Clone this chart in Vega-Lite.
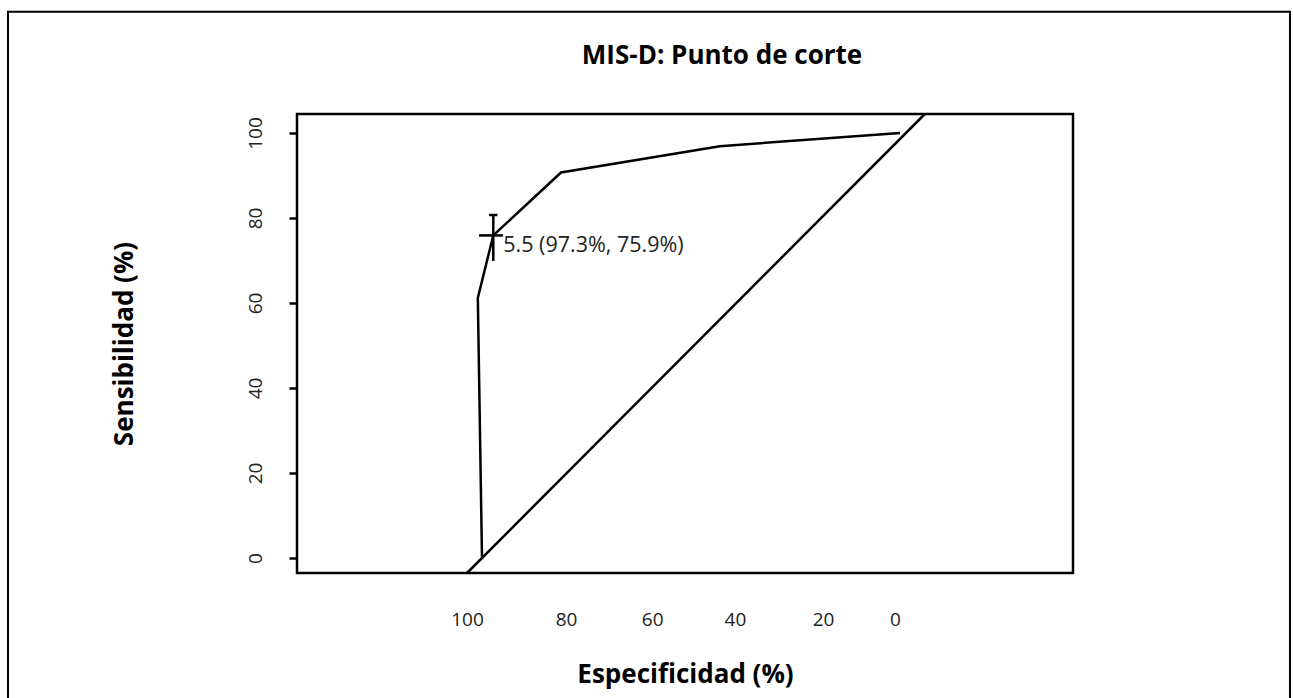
{
  "$schema": "https://vega.github.io/schema/vega-lite/v6.json",
  "autosize": {"type": "none"},
  "padding": {"left": 297, "top": 114, "right": 220, "bottom": 125},
  "width": 776,
  "height": 459,
  "background": "#ffffff",
  "title": {
    "text": "MIS-D: Punto de corte",
    "font": "Open Sans",
    "fontSize": 26,
    "fontWeight": "bold",
    "color": "#000000",
    "anchor": "middle",
    "frame": "group",
    "baseline": "alphabetic",
    "dx": 37,
    "offset": -79
  },
  "config": {
    "view": {"stroke": "#000000", "strokeWidth": 2.5},
    "axis": {
      "labelFont": "Open Sans",
      "labelFontSize": 19,
      "labelColor": "#222222",
      "titleFont": "Open Sans",
      "titleFontSize": 26,
      "titleFontWeight": "bold",
      "titleColor": "#000000",
      "grid": false,
      "domain": false
    }
  },
  "datasets": {
    "curve": [
      {"serie": "ROC", "especificidad": 100.0, "sensibilidad": 0.0},
      {"serie": "ROC", "especificidad": 101.0, "sensibilidad": 61.2},
      {"serie": "ROC", "especificidad": 97.3, "sensibilidad": 75.9},
      {"serie": "ROC", "especificidad": 81.1, "sensibilidad": 90.7},
      {"serie": "ROC", "especificidad": 43.1, "sensibilidad": 96.9},
      {"serie": "ROC", "especificidad": 0.0, "sensibilidad": 100.0},
      {"serie": "Diagonal", "especificidad": 103.58, "sensibilidad": -3.53},
      {"serie": "Diagonal", "especificidad": -5.95, "sensibilidad": 104.47}
    ],
    "bars": [
      {"e1": 97.3, "e2": 97.3, "s1": 69.9, "s2": 80.7},
      {"e1": 98.3, "e2": 96.3, "s1": 80.7, "s2": 80.7},
      {"e1": 100.7, "e2": 95.0, "s1": 75.9, "s2": 75.9}
    ],
    "note": [
      {"especificidad": 97.3, "sensibilidad": 75.9, "texto": "5.5 (97.3%, 75.9%)"}
    ]
  },
  "layer": [
    {
      "data": {"name": "curve"},
      "mark": {"type": "line", "color": "#000000", "strokeWidth": 2.5, "clip": false},
      "encoding": {
        "x": {
          "field": "especificidad",
          "type": "quantitative",
          "scale": {"domain": [-41.39, 144.26], "reverse": true, "nice": false, "zero": false},
          "axis": {
            "title": "Especificidad (%)",
            "values": [103.6, 79.9, 59.3, 39.5, 18.4, 1.2],
            "labelExpr": "format(round(datum.value / 20) * 20, 'd')",
            "ticks": false,
            "labelPadding": 37,
            "labelBaseline": "top",
            "titleBaseline": "alphabetic",
            "titleY": 109
          }
        },
        "y": {
          "field": "sensibilidad",
          "type": "quantitative",
          "scale": {"domain": [-3.53, 104.47], "nice": false, "zero": false},
          "axis": {
            "title": "Sensibilidad (%)",
            "values": [0, 20, 40, 60, 80, 100],
            "tickSize": 8,
            "tickWidth": 2.5,
            "tickColor": "#000000",
            "labelAngle": -90,
            "labelAlign": "center",
            "labelBaseline": "alphabetic",
            "labelPadding": 28,
            "titleAngle": -90,
            "titleAlign": "center",
            "titleBaseline": "alphabetic",
            "titleX": -165,
            "titleY": 229.5
          }
        },
        "detail": {"field": "serie", "type": "nominal"},
        "order": {"field": "serie", "type": "nominal"}
      }
    },
    {
      "data": {"name": "bars"},
      "mark": {"type": "rule", "color": "#000000", "strokeWidth": 2.5},
      "encoding": {
        "x": {"field": "e1", "type": "quantitative"},
        "x2": {"field": "e2"},
        "y": {"field": "s1", "type": "quantitative"},
        "y2": {"field": "s2"}
      }
    },
    {
      "data": {"name": "note"},
      "mark": {"type": "text", "align": "left", "baseline": "middle", "dx": 10, "dy": 11, "font": "Open Sans", "fontSize": 21.5, "color": "#222222"},
      "encoding": {
        "x": {"field": "especificidad", "type": "quantitative"},
        "y": {"field": "sensibilidad", "type": "quantitative"},
        "text": {"field": "texto"}
      }
    },
    {
      "data": {"values": [{}]},
      "mark": {"type": "rect", "fill": null, "stroke": "#000000", "strokeWidth": 2, "clip": false},
      "encoding": {
        "x": {"datum": 213.4, "type": "quantitative"},
        "x2": {"datum": -93.3},
        "y": {"datum": 128.5, "type": "quantitative"},
        "y2": {"datum": -35.8}
      }
    }
  ]
}
